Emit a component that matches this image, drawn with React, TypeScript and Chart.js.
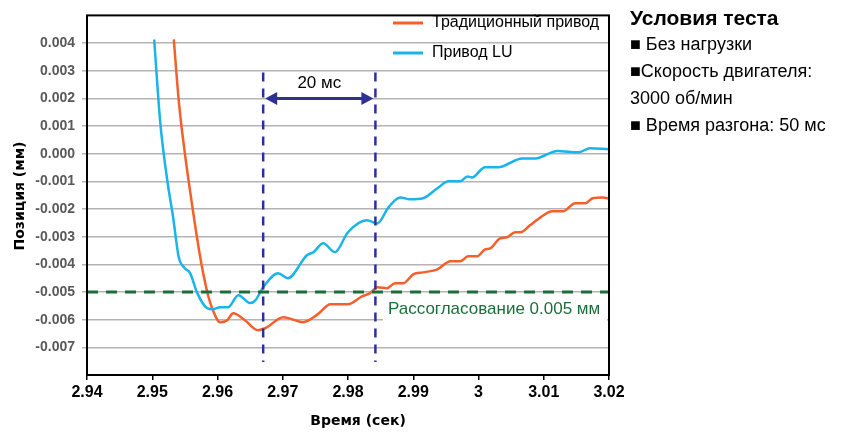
import React, { useEffect, useRef } from "react";
import { Chart, registerables } from "chart.js";

Chart.register(...registerables);

// ---- data ----
const tradTime = [2.9533, 2.9541, 2.955, 2.9563, 2.9573, 2.9584, 2.9593, 2.9604, 2.9615, 2.9624, 2.9642, 2.9662, 2.9673, 2.9701, 2.9731, 2.9754, 2.9773, 2.98, 2.9822, 2.9834, 2.9845, 2.986, 2.9872, 2.9885, 2.99, 2.9915, 2.9937, 2.9957, 2.9972, 2.9984, 2.9998, 3.001, 3.0018, 3.0033, 3.0044, 3.0056, 3.0064, 3.0079, 3.0095, 3.0113, 3.013, 3.0148, 3.0164, 3.0175, 3.0191, 3.0199];
const tradPos = [0.00413, 0.00182, 0.00001, -0.00216, -0.00367, -0.00497, -0.00566, -0.00609, -0.00602, -0.00577, -0.00602, -0.00638, -0.00631, -0.00591, -0.00609, -0.0058, -0.00544, -0.00544, -0.00515, -0.00504, -0.00483, -0.00486, -0.00468, -0.00468, -0.00436, -0.00429, -0.00418, -0.00389, -0.00389, -0.00371, -0.00371, -0.00346, -0.00342, -0.00306, -0.00302, -0.00284, -0.00284, -0.00259, -0.0023, -0.00208, -0.00208, -0.00179, -0.00179, -0.00161, -0.00158, -0.00161];

const luTime = [2.9503, 2.9512, 2.9523, 2.9532, 2.954, 2.9543, 2.955, 2.9558, 2.9569, 2.9584, 2.9593, 2.9604, 2.9616, 2.9632, 2.965, 2.9658, 2.967, 2.9693, 2.9708, 2.9737, 2.9747, 2.9762, 2.978, 2.98, 2.9829, 2.9845, 2.9862, 2.988, 2.9895, 2.9915, 2.9937, 2.9954, 2.9972, 2.9983, 2.999, 3.001, 3.003, 3.0067, 3.0087, 3.0121, 3.0153, 3.0171, 3.0199];
const luPos = [0.00413, 0.0012, -0.00096, -0.0023, -0.00367, -0.00392, -0.00414, -0.00432, -0.00504, -0.00558, -0.00562, -0.00555, -0.00555, -0.00512, -0.0054, -0.0053, -0.00483, -0.00432, -0.0045, -0.00367, -0.00356, -0.00324, -0.00356, -0.00284, -0.00241, -0.00252, -0.00194, -0.00158, -0.00165, -0.00161, -0.00125, -0.001, -0.001, -0.00082, -0.00086, -0.00049, -0.00049, -0.00017, -0.00017, 0.0001, 0.00005, 0.0002, 0.00016];

const xMin = 2.94;
const xMax = 3.02;
const yMin = -0.008;
const yMax = 0.005;

const markerTimes = [2.967, 2.9842];
const markerTop = 0.00294;
const markerBottom = -0.00753;
const arrowLevel = 0.002;
const mismatchLevel = -0.005;

const seriesNames = ["Традиционный привод", "Привод LU"];
const arrowLabel = "20 мс";
const mismatchLabel = "Рассогласование 0.005 мм";
const xTitle = "Время (сек)";
const yTitle = "Позиция (мм)";
const panelTitle = "Условия теста";
const panelLines = ["■ Без нагрузки", "■Скорость двигателя:", "3000 об/мин", "■ Время разгона: 50 мс"];

const ORANGE = "#f55f2a";
const BLUE = "#19b4ea";
const NAVY = "#2e3192";
const GREEN = "#1b6e3a";
const FONT = "'Liberation Sans', Arial, sans-serif";

const toXY = (xs: number[], ys: number[]) => xs.map((x, i) => ({ x, y: ys[i] }));

const overlay = {
  id: "overlay",
  beforeDatasetsDraw(chart: any) {
    const { ctx } = chart;
    ctx.save();
    ctx.fillStyle = "#ffffff";
    ctx.fillRect(383, 297, 224, 25);
    ctx.restore();
  },
  afterDraw(chart: any) {
    const { ctx, chartArea: a, scales } = chart;
    const x = scales.x;
    const y = scales.y;
    ctx.save();
    // plot border
    ctx.strokeStyle = "#000";
    ctx.lineWidth = 2;
    ctx.strokeRect(a.left, a.top, a.right - a.left, a.bottom - a.top);

    // arrow
    const x1 = x.getPixelForValue(markerTimes[0]);
    const x2 = x.getPixelForValue(markerTimes[1]);
    const ay = y.getPixelForValue(arrowLevel);
    ctx.strokeStyle = NAVY;
    ctx.fillStyle = NAVY;
    ctx.lineWidth = 3;
    ctx.beginPath();
    ctx.moveTo(x1 + 8, ay);
    ctx.lineTo(x2 - 8, ay);
    ctx.stroke();
    ctx.beginPath();
    ctx.moveTo(x1 + 2, ay);
    ctx.lineTo(x1 + 14, ay - 6.5);
    ctx.lineTo(x1 + 14, ay + 6.5);
    ctx.closePath();
    ctx.fill();
    ctx.beginPath();
    ctx.moveTo(x2 - 2, ay);
    ctx.lineTo(x2 - 14, ay - 6.5);
    ctx.lineTo(x2 - 14, ay + 6.5);
    ctx.closePath();
    ctx.fill();

    ctx.fillStyle = "#000";
    ctx.font = `17px ${FONT}`;
    ctx.textAlign = "center";
    ctx.textBaseline = "middle";
    ctx.fillText(arrowLabel, (x1 + x2) / 2, ay - 15);

    // mismatch label
    ctx.fillStyle = GREEN;
    ctx.font = `17px ${FONT}`;
    ctx.textAlign = "left";
    ctx.fillText(mismatchLabel, 388, 309);

    // legend
    const cols = [ORANGE, BLUE];
    const ly = [23, 53];
    ctx.font = `16px ${FONT}`;
    for (let i = 0; i < 2; i++) {
      ctx.strokeStyle = cols[i];
      ctx.lineWidth = 3;
      ctx.beginPath();
      ctx.moveTo(393, ly[i]);
      ctx.lineTo(423, ly[i]);
      ctx.stroke();
      ctx.fillStyle = "#000";
      ctx.fillText(seriesNames[i], 432, ly[i]);
    }

    // right panel
    ctx.fillStyle = "#000";
    ctx.font = `bold 21px ${FONT}`;
    ctx.fillText(panelTitle, 630, 19);
    ctx.font = `18px ${FONT}`;
    const py = [45, 72, 99, 126];
    panelLines.forEach((t, i) => ctx.fillText(t, 630, py[i]));

    // axis titles
    ctx.font = `bold 14px 'DejaVu Sans', sans-serif`;
    ctx.textAlign = "center";
    ctx.fillText(xTitle, 358, 421);
    ctx.translate(20, 196);
    ctx.rotate(-Math.PI / 2);
    ctx.fillText(yTitle, 0, 0);
    ctx.restore();
  },
};

export default function App() {
  const ref = useRef<HTMLCanvasElement | null>(null);
  useEffect(() => {
    document.body.style.margin = "0";
    if (!ref.current) return;
    const markerDatasets = markerTimes.map((t) => ({
      label: "marker",
      data: [
        { x: t, y: markerTop },
        { x: t, y: markerBottom },
      ],
      borderColor: NAVY,
      borderWidth: 2.5,
      borderDash: [9, 7],
      pointRadius: 0,
      order: 0,
    }));
    const chart = new Chart(ref.current, {
      type: "line",
      data: {
        datasets: [
          {
            label: seriesNames[0],
            data: toXY(tradTime, tradPos),
            borderColor: ORANGE,
            borderWidth: 2.5,
            pointRadius: 0,
            cubicInterpolationMode: "monotone",
            order: 2,
          },
          {
            label: seriesNames[1],
            data: toXY(luTime, luPos),
            borderColor: BLUE,
            borderWidth: 2.5,
            pointRadius: 0,
            cubicInterpolationMode: "monotone",
            order: 1,
          },
          {
            label: "mismatch",
            data: [
              { x: xMin, y: mismatchLevel },
              { x: xMax, y: mismatchLevel },
            ],
            borderColor: GREEN,
            borderWidth: 3,
            borderDash: [11, 8],
            pointRadius: 0,
            order: 0,
          },
          ...markerDatasets,
        ] as any,
      },
      options: {
        animation: false,
        responsive: false,
        maintainAspectRatio: false,
        layout: { padding: { top: 14, right: 238, left: 0, bottom: 0 } },
        plugins: { legend: { display: false }, tooltip: { enabled: false } },
        scales: {
          x: {
            type: "linear",
            min: xMin,
            max: xMax,
            border: { display: false },
            grid: {
              drawOnChartArea: false,
              drawTicks: true,
              tickLength: 5,
              color: "#000",
              lineWidth: 1.5,
            },
            ticks: {
              stepSize: 0.01,
              padding: 3,
              maxRotation: 0,
              color: "#000",
              font: { family: FONT, size: 16, weight: "bold" },
              callback: (v: any) => String(Math.round(Number(v) * 100) / 100),
            },
            afterFit: (s: any) => {
              s.height = 57;
            },
          },
          y: {
            min: yMin,
            max: yMax,
            border: { display: false },
            grid: {
              color: (c: any) => {
                const n = Math.round(Number(c.tick?.value) * 1000);
                return n === -8 || n === 5 ? "rgba(0,0,0,0)" : "#b4b4b4";
              },
              lineWidth: 1.5,
              tickLength: 5,
            },
            ticks: {
              stepSize: 0.001,
              padding: 7,
              color: "#595959",
              font: { family: FONT, size: 14, weight: "bold" },
              callback: (v: any) => {
                const n = Math.round(Number(v) * 1000);
                if (n === -8 || n === 5) return "";
                return (n / 1000).toFixed(3);
              },
            },
            afterFit: (s: any) => {
              s.width = 87;
            },
          },
        },
      },
      plugins: [overlay],
    });
    return () => chart.destroy();
  }, []);
  return (
    <div style={{ width: 847, height: 432 }}>
      <canvas ref={ref} width={847} height={432} style={{ display: "block" }} />
    </div>
  );
}
